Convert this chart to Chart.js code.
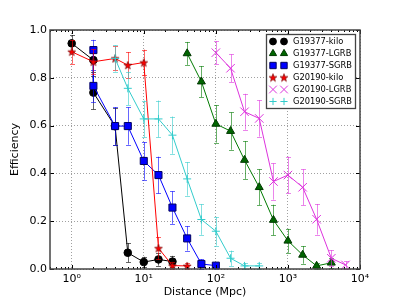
<!DOCTYPE html>
<html>
<head>
<meta charset="utf-8">
<script src="https://cdn.jsdelivr.net/npm/chart.js@4.4.1/dist/chart.umd.min.js"></script>
<style>
  html, body { margin: 0; padding: 0; background: #fff; }
  canvas { display: block; }
</style>
</head>
<body>
<canvas id="grafico" width="399" height="299"></canvas>
<script>
// ==============================
// DATOS
// ==============================

// G19377 - kilonova
const kilo19377D = [1, 2, 2, 4, 6, 10, 16, 25];
const kilo19377E = [0.944, 0.874, 0.738, 0.597, 0.068, 0.029, 0.040, 0.031];
const kilo19377Err = [0.035, 0.05, 0.07, 0.078, 0.04, 0.022, 0.026, 0.024];

// G19377 - LGRB
const lgrb19377D = [40, 63, 100, 160, 250, 400, 630, 1000, 1600, 2500, 4000];
const lgrb19377E = [0.902, 0.784, 0.607, 0.577, 0.456, 0.342, 0.205, 0.118, 0.059, 0.013, 0.026];
const lgrb19377Err = [0.048, 0.065, 0.078, 0.078, 0.079, 0.075, 0.064, 0.05, 0.037, 0.012, 0.02];

// G19377 - SGRB
const sgrb19377D = [2, 2, 4, 6, 10, 16, 25, 40, 63, 100];
const sgrb19377E = [0.916, 0.766, 0.598, 0.598, 0.452, 0.393, 0.257, 0.128, 0.021, 0.014];
const sgrb19377Err = [0.043, 0.067, 0.078, 0.078, 0.079, 0.077, 0.068, 0.051, 0.02, 0.012];

// G20190 - kilonova
const kilo20190D = [1, 2, 4, 6, 10, 16, 25, 40];
const kilo20190E = [0.909, 0.867, 0.881, 0.853, 0.864, 0.087, 0.014, 0.013];
const kilo20190Err = [0.05, 0.053, 0.05, 0.055, 0.054, 0.047, 0.014, 0.012];

// G20190 - LGRB
const lgrb20190D = [100, 160, 250, 400, 630, 1000, 1600, 2500, 4000, 6300];
const lgrb20190E = [0.905, 0.84, 0.658, 0.63, 0.366, 0.393, 0.342, 0.208, 0.045, 0.017];
const lgrb20190Err = [0.048, 0.058, 0.075, 0.076, 0.076, 0.077, 0.075, 0.064, 0.033, 0.015];

// G20190 - SGRB
const sgrb20190D = [4, 6, 10, 16, 25, 40, 63, 100, 160, 250, 400];
const sgrb20190E = [0.881, 0.756, 0.628, 0.628, 0.56, 0.377, 0.207, 0.158, 0.045, 0.013, 0.013];
const sgrb20190Err = [0.055, 0.07, 0.077, 0.077, 0.078, 0.07, 0.064, 0.06, 0.032, 0.012, 0.012];

// Ejes
const ticksX = [1, 10, 100, 1000, 10000];
const etiquetasX = ["10\u2070", "10\u00b9", "10\u00b2", "10\u00b3", "10\u2074"];
const ticksY = [0, 0.2, 0.4, 0.6, 0.8, 1.0];
const menoresX = [2, 3, 4, 5, 6, 7, 8, 9];

const FUENTE = "'DejaVu Sans', 'Bitstream Vera Sans', sans-serif";

// ==============================
// MARCADOR ESTRELLA
// ==============================
function crearEstrella(relleno, borde) {
  const c = document.createElement("canvas");
  c.width = 10;
  c.height = 10;
  const g = c.getContext("2d");
  g.beginPath();
  for (let k = 0; k < 10; k++) {
    const r = k % 2 ? 1.6 : 4.1;
    const a = -Math.PI / 2 + k * Math.PI / 5;
    const px = 5 + r * Math.cos(a);
    const py = 5.4 + r * Math.sin(a);
    if (k === 0) g.moveTo(px, py); else g.lineTo(px, py);
  }
  g.closePath();
  g.fillStyle = relleno;
  g.fill();
  g.lineWidth = 0.7;
  g.strokeStyle = borde;
  g.stroke();
  return c;
}
const estrella = crearEstrella("#ff0000", "#7a0000");

// ==============================
// SERIES
// ==============================
function serie(label, dist, eff, err, color, estilo, radio, relleno, borde, orden) {
  return {
    label: label,
    data: dist.map((d, i) => ({ x: d, y: eff[i] })),
    errores: err,
    borderColor: color,
    backgroundColor: color,
    borderWidth: 1,
    pointStyle: estilo,
    pointRadius: radio,
    pointBackgroundColor: relleno,
    pointBorderColor: borde,
    pointBorderWidth: 1,
    tension: 0,
    order: orden
  };
}

const series = [
  serie("G19377-kilo", kilo19377D, kilo19377E, kilo19377Err, "#000000", "circle", 3.8, "#000000", "#000000", 5),
  serie("G19377-LGRB", lgrb19377D, lgrb19377E, lgrb19377Err, "#007a00", "triangle", 4.6, "#006600", "#003800", 4),
  serie("G19377-SGRB", sgrb19377D, sgrb19377E, sgrb19377Err, "#0000ff", "rect", 5, "#0000ff", "#000060", 3),
  serie("G20190-kilo", kilo20190D, kilo20190E, kilo20190Err, "#ff0000", estrella, 5, "#ff0000", "#7a0000", 2),
  serie("G20190-LGRB", lgrb20190D, lgrb20190E, lgrb20190Err, "#dd33dd", "crossRot", 6, "#dd33dd", "#dd33dd", 1),
  serie("G20190-SGRB", sgrb20190D, sgrb20190E, sgrb20190Err, "#33cccc", "cross", 4, "#33cccc", "#33cccc", 0)
];

// ==============================
// PLUGINS
// ==============================

// Barras de error, dibujadas justo antes de cada serie
const barrasError = {
  id: "barrasError",
  beforeDatasetDraw(chart, args) {
    const ds = chart.data.datasets[args.index];
    const xs = chart.scales.x, ys = chart.scales.y;
    const ctx = chart.ctx;
    ctx.save();
    ctx.strokeStyle = ds.borderColor;
    ctx.globalAlpha = 0.6;
    ctx.lineWidth = 1;
    ds.data.forEach((p, i) => {
      const e = ds.errores[i];
      const px = Math.round(xs.getPixelForValue(p.x)) + 0.5;
      const y1 = ys.getPixelForValue(Math.max(0, p.y - e));
      const y2 = ys.getPixelForValue(p.y + e);
      ctx.beginPath();
      ctx.moveTo(px, y1); ctx.lineTo(px, y2);
      ctx.moveTo(px - 2.5, Math.round(y1) + 0.5); ctx.lineTo(px + 2.5, Math.round(y1) + 0.5);
      ctx.moveTo(px - 2.5, Math.round(y2) + 0.5); ctx.lineTo(px + 2.5, Math.round(y2) + 0.5);
      ctx.stroke();
    });
    ctx.restore();
  }
};

// Marco, marcas de los ejes y leyenda
const marcoLeyenda = {
  id: "marcoLeyenda",
  afterDraw(chart) {
    const ctx = chart.ctx;
    const a = chart.chartArea;
    const xs = chart.scales.x, ys = chart.scales.y;
    ctx.save();

    // marcas
    ctx.strokeStyle = "#000";
    ctx.lineWidth = 1;
    ctx.beginPath();
    ticksX.forEach(v => {
      const px = Math.round(xs.getPixelForValue(v)) + 0.5;
      ctx.moveTo(px, a.bottom); ctx.lineTo(px, a.bottom - 4);
      ctx.moveTo(px, a.top); ctx.lineTo(px, a.top + 4);
    });
    [0.1, 1, 10, 100, 1000].forEach(dec => {
      menoresX.forEach(m => {
        const v = m * dec;
        if (v < xs.min || v > xs.max) return;
        const px = Math.round(xs.getPixelForValue(v)) + 0.5;
        ctx.moveTo(px, a.bottom); ctx.lineTo(px, a.bottom - 2);
        ctx.moveTo(px, a.top); ctx.lineTo(px, a.top + 2);
      });
    });
    ticksY.forEach(v => {
      const py = Math.round(ys.getPixelForValue(v)) + 0.5;
      ctx.moveTo(a.left, py); ctx.lineTo(a.left + 4, py);
      ctx.moveTo(a.right, py); ctx.lineTo(a.right - 4, py);
    });
    ctx.stroke();

    // marco
    ctx.strokeStyle = "#444";
    ctx.lineWidth = 1.5;
    ctx.strokeRect(a.left, a.top, a.right - a.left, a.bottom - a.top);

    // leyenda
    const lx = 266.5, ly = 34.5, lw = 89, lh = 74;
    ctx.fillStyle = "#fff";
    ctx.fillRect(lx, ly, lw, lh);
    ctx.strokeStyle = "#444";
    ctx.lineWidth = 1.3;
    ctx.strokeRect(lx, ly, lw, lh);
    ctx.font = "8.3px " + FUENTE;
    ctx.textBaseline = "middle";
    ctx.textAlign = "left";
    chart.data.datasets.forEach((ds, i) => {
      const cy = 41.5 + i * 12;
      [273, 284].forEach(cx => {
        ctx.fillStyle = ds.pointBackgroundColor;
        ctx.strokeStyle = ds.pointBorderColor;
        ctx.lineWidth = 1;
        Chart.helpers.drawPoint(ctx, {
          pointStyle: ds.pointStyle, rotation: 0, radius: ds.pointRadius * 0.9, borderWidth: 1
        }, cx, cy);
      });
      ctx.fillStyle = "#000";
      ctx.fillText(ds.label, 293, cy + 0.5);
    });
    ctx.restore();
  }
};

// ==============================
// GRÁFICO
// ==============================
const ctxEficiencia = document.getElementById("grafico").getContext("2d");

const graficoEficiencia = new Chart(ctxEficiencia, {
  type: "line",
  data: { datasets: series },
  options: {
    responsive: false,
    animation: false,
    devicePixelRatio: 1,
    layout: { padding: { left: 0, right: 39, top: 30, bottom: 0 } },
    plugins: {
      legend: { display: false },
      tooltip: { enabled: false }
    },
    scales: {
      x: {
        type: "logarithmic",
        min: 0.5,
        max: 10000,
        afterBuildTicks: s => { s.ticks = ticksX.map(v => ({ value: v })); },
        afterFit: s => { s.height = 30; },
        ticks: {
          callback: v => etiquetasX[ticksX.indexOf(v)],
          font: { family: FUENTE, size: 11 },
          color: "#000",
          padding: 4,
          maxRotation: 0,
          autoSkip: false
        },
        grid: { color: "#888", lineWidth: 0.8, drawTicks: false },
        border: { display: false, dash: [1, 2] },
        title: {
          display: true,
          text: "Distance (Mpc)",
          font: { family: FUENTE, size: 11 },
          color: "#000",
          padding: { top: 0, bottom: 0 }
        }
      },
      y: {
        min: 0,
        max: 1,
        afterBuildTicks: s => { s.ticks = ticksY.map(v => ({ value: v })); },
        afterFit: s => { s.width = 50; },
        ticks: {
          callback: v => v.toFixed(1),
          font: { family: FUENTE, size: 11 },
          color: "#000",
          padding: 3
        },
        grid: { color: "#888", lineWidth: 0.8, drawTicks: false },
        border: { display: false, dash: [1, 2] },
        title: {
          display: true,
          text: "Efficiency",
          font: { family: FUENTE, size: 11 },
          color: "#000",
          padding: { top: 9, bottom: 0 }
        }
      }
    }
  },
  plugins: [barrasError, marcoLeyenda]
});
</script>
</body>
</html>
